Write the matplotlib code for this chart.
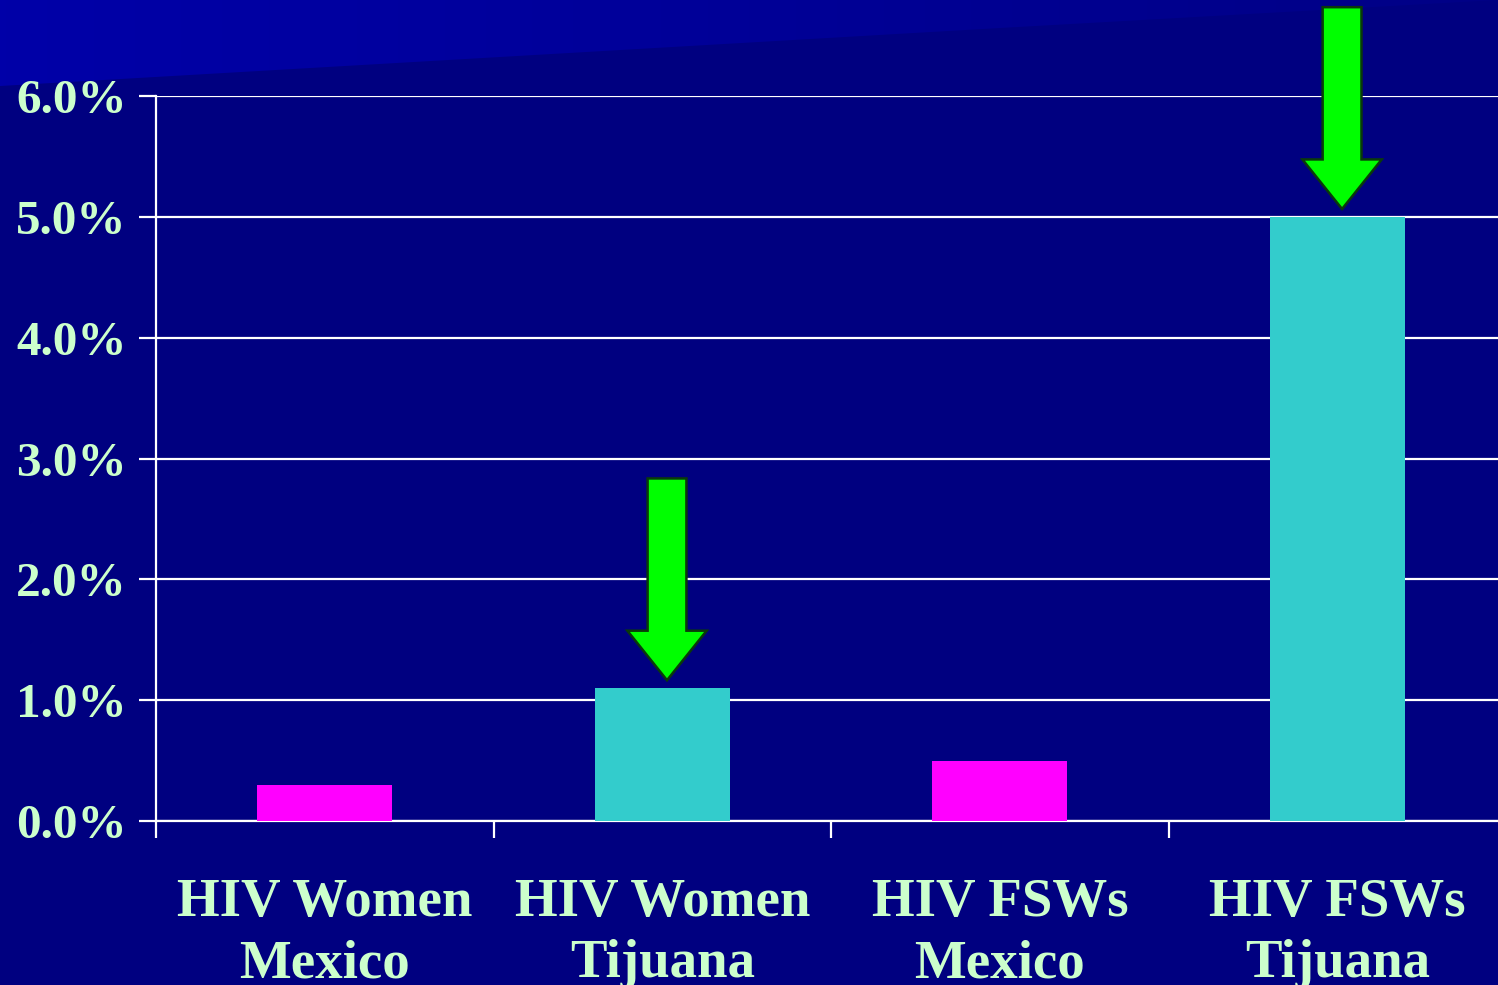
import matplotlib
matplotlib.use("Agg")
from matplotlib import pyplot as plt
from matplotlib.patches import FancyArrow, Polygon
from matplotlib.colors import LinearSegmentedColormap
import numpy as np

categories = ["HIV Women\nMexico", "HIV Women\nTijuana", "HIV FSWs\nMexico", "HIV FSWs\nTijuana"]
values = [0.3, 1.1, 0.5, 5.0]
bar_colors = ["#FF00FF", "#33CCCC", "#FF00FF", "#33CCCC"]
arrow_bars = [1, 3]  # bars that get a green arrow
y_ticks = [0, 1, 2, 3, 4, 5, 6]
y_tick_labels = ["0.0%", "1.0%", "2.0%", "3.0%", "4.0%", "5.0%", "6.0%"]

NAVY = "#000080"
TEXT = "#CCFFCC"
W, H = 1498, 985

plt.rcParams['font.family'] = ['Liberation Serif', 'DejaVu Serif']
plt.rcParams['font.weight'] = 'bold'

fig = plt.figure(figsize=(W / 100, H / 100), dpi=100)
fig.patch.set_facecolor(NAVY)

# background with the lighter blue wedge at the top left
bg = fig.add_axes([0, 0, 1, 1], zorder=-1)
bg.set_xlim(0, W)
bg.set_ylim(H, 0)
bg.axis("off")
grad = np.linspace(0, 1, 256).reshape(1, -1)
cmap = LinearSegmentedColormap.from_list("wedge", ["#0000A8", "#000086"])
im = bg.imshow(grad, extent=[0, W, 90, 0], cmap=cmap, aspect="auto")
wedge = Polygon([(0, 0), (W, 0), (1000, 28), (0, 86)], closed=True,
                transform=bg.transData, facecolor="none", edgecolor="none")
bg.add_patch(wedge)
im.set_clip_path(wedge)

ax = fig.add_axes([156 / W, 164 / H, 1342 / W, 725 / H])
ax.set_facecolor("none")

x = np.arange(len(categories))
ax.bar(x, values, width=0.4, color=bar_colors, zorder=3)

# green arrows pointing down at the Tijuana bars
for i in arrow_bars:
    tip = values[i] + 0.065
    length = 1.67
    arr = FancyArrow(x[i] + 0.014, tip + length, 0, -length, width=0.115, head_width=0.235,
                     head_length=0.41, length_includes_head=True,
                     facecolor="#00FF00", edgecolor="#0A3A0A", linewidth=1.8,
                     zorder=4, clip_on=False)
    ax.add_patch(arr)

ax.set_yticks(y_ticks)
ax.set_yticklabels(y_tick_labels)
ax.yaxis.grid(True, color="white", linewidth=1.6, zorder=1)
ax.set_axisbelow(True)

ax.set_xticks([-0.5, 0.5, 1.5, 2.5, 3.5])
ax.set_xticklabels([])
ax.set_xticks(x, minor=True)
ax.set_xticklabels(categories, minor=True, linespacing=1.3)
ax.set_xlim(-0.5, 3.476)
ax.set_ylim(0, 6)
ax.tick_params(axis="x", which="major", direction="out", length=12, width=1.6, color="white")
ax.tick_params(axis="x", which="minor", length=0, pad=41, labelsize=39.5, labelcolor=TEXT)
ax.tick_params(axis="y", direction="out", length=12, width=1.6, color="white",
               pad=9, labelsize=35.5, labelcolor=TEXT)

for side in ["top", "right"]:
    ax.spines[side].set_visible(False)
for side in ["left", "bottom"]:
    ax.spines[side].set_color("white")
    ax.spines[side].set_linewidth(1.6)

fig.savefig("out.png", dpi=100, facecolor=fig.get_facecolor())
